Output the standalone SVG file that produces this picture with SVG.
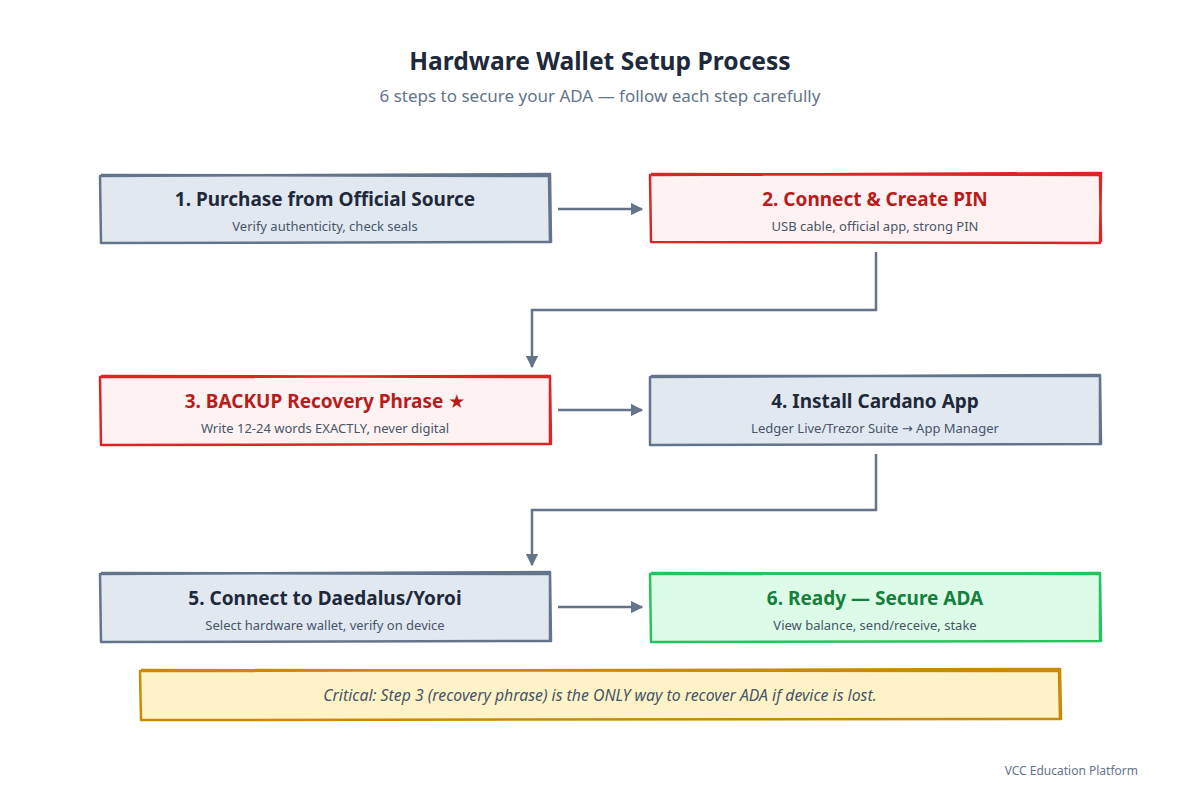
<svg xmlns="http://www.w3.org/2000/svg" width="1200" height="800" viewBox="0 0 1200 800">
<defs>
<marker id="ah" viewBox="0 0 10 10" refX="9" refY="5" markerWidth="5" markerHeight="5" orient="auto" markerUnits="strokeWidth">
<path d="M0,0 L10,5 L0,10 z" fill="#64748b"/>
</marker>
<style>
text{font-family:"Noto Sans","Open Sans","DejaVu Sans",sans-serif;text-anchor:middle}
.title{font-size:24.6px;font-weight:700;fill:#1e293b}
.sub{font-size:17px;fill:#64748b}
.nt{font-size:19px;font-weight:700}
.ns{font-size:13px;fill:#475569}
.blue .bg{fill:#e2e8f0}
.blue .ol{fill:none;stroke:#64748b;stroke-width:2.5;stroke-linejoin:round}
.blue .nt{fill:#1e293b}
.red .bg{fill:#fef2f2}
.red .ol{fill:none;stroke:#dc2626;stroke-width:2.5;stroke-linejoin:round}
.red .nt{fill:#b91c1c}
.green .bg{fill:#dcfce7}
.green .ol{fill:none;stroke:#22c55e;stroke-width:2.5;stroke-linejoin:round}
.green .nt{fill:#15803d}
.conn{fill:none;stroke:#64748b;stroke-width:2.5;marker-end:url(#ah)}
.note .bg{fill:#fef3c7}
.note .ol{fill:none;stroke:#ca8a04;stroke-width:2.5;stroke-linejoin:round}
.nn{font-size:15.8px;font-style:italic;fill:#475569}
.foot{font-size:12px;fill:#64748b;text-anchor:end}
</style>
</defs>
<rect width="1200" height="800" fill="#ffffff"/>
<text class="title" x="600" y="70">Hardware Wallet Setup Process</text>
<text class="sub" x="600" y="102">6 steps to secure your ADA — follow each step carefully</text>

<g id="connectors">
<path class="conn" d="M558,209 L642,209"/>
<path class="conn" d="M876,252 L876,310 L532,310 L532,367"/>
<path class="conn" d="M558,410 L642,410"/>
<path class="conn" d="M876,454 L876,510 L532,510 L532,565"/>
<path class="conn" d="M558,607 L642,607"/>
</g>

<g id="node1" class="blue">
<rect class="bg" x="100" y="175" width="451" height="68"/>
<path class="ol" d="M100,176 L550,174 L551,242 L101,243 Z M101,175 L549,176 L550,243"/>
<text class="nt" x="325" y="206">1. Purchase from Official Source</text>
<text class="ns" x="325" y="231">Verify authenticity, check seals</text>
</g>

<g id="node2" class="red">
<rect class="bg" x="650" y="174" width="451" height="69"/>
<path class="ol" d="M650,175 L1101,173 L1100,243 L651,242 Z M651,174 L1100,175 L1101,242"/>
<text class="nt" x="875" y="206">2. Connect &amp; Create PIN</text>
<text class="ns" x="875" y="231">USB cable, official app, strong PIN</text>
</g>

<g id="node3" class="red">
<rect class="bg" x="100" y="376" width="451" height="69"/>
<path class="ol" d="M100,377 L550,376 L551,444 L101,445 Z M101,376 L550,377 L550,445"/>
<text class="nt" x="325" y="408">3. BACKUP Recovery Phrase ★</text>
<text class="ns" x="325" y="433">Write 12-24 words EXACTLY, never digital</text>
</g>

<g id="node4" class="blue">
<rect class="bg" x="650" y="376" width="451" height="69"/>
<path class="ol" d="M650,377 L1100,375 L1101,444 L650,445 Z M651,376 L1100,376 L1100,445"/>
<text class="nt" x="875" y="408">4. Install Cardano App</text>
<text class="ns" x="875" y="433">Ledger Live/Trezor Suite → App Manager</text>
</g>

<g id="node5" class="blue">
<rect class="bg" x="100" y="573" width="451" height="69"/>
<path class="ol" d="M100,574 L550,572 L551,641 L101,642 Z M101,573 L550,574 L550,642"/>
<text class="nt" x="325" y="605">5. Connect to Daedalus/Yoroi</text>
<text class="ns" x="325" y="630">Select hardware wallet, verify on device</text>
</g>

<g id="node6" class="green">
<rect class="bg" x="650" y="573" width="451" height="69"/>
<path class="ol" d="M650,574 L1100,573 L1101,641 L651,642 Z M651,573 L1100,574 L1100,642"/>
<text class="nt" x="875" y="605">6. Ready — Secure ADA</text>
<text class="ns" x="875" y="630">View balance, send/receive, stake</text>
</g>

<g id="note" class="note">
<rect class="bg" x="140" y="670" width="920" height="50"/>
<path class="ol" d="M140,671 L1060,669 L1061,719 L141,720 Z M141,670 L1059,671 L1060,720"/>
<text class="nn" x="600" y="701">Critical: Step 3 (recovery phrase) is the ONLY way to recover ADA if device is lost.</text>
</g>

<text class="foot" x="1138" y="775">VCC Education Platform</text>
</svg>
